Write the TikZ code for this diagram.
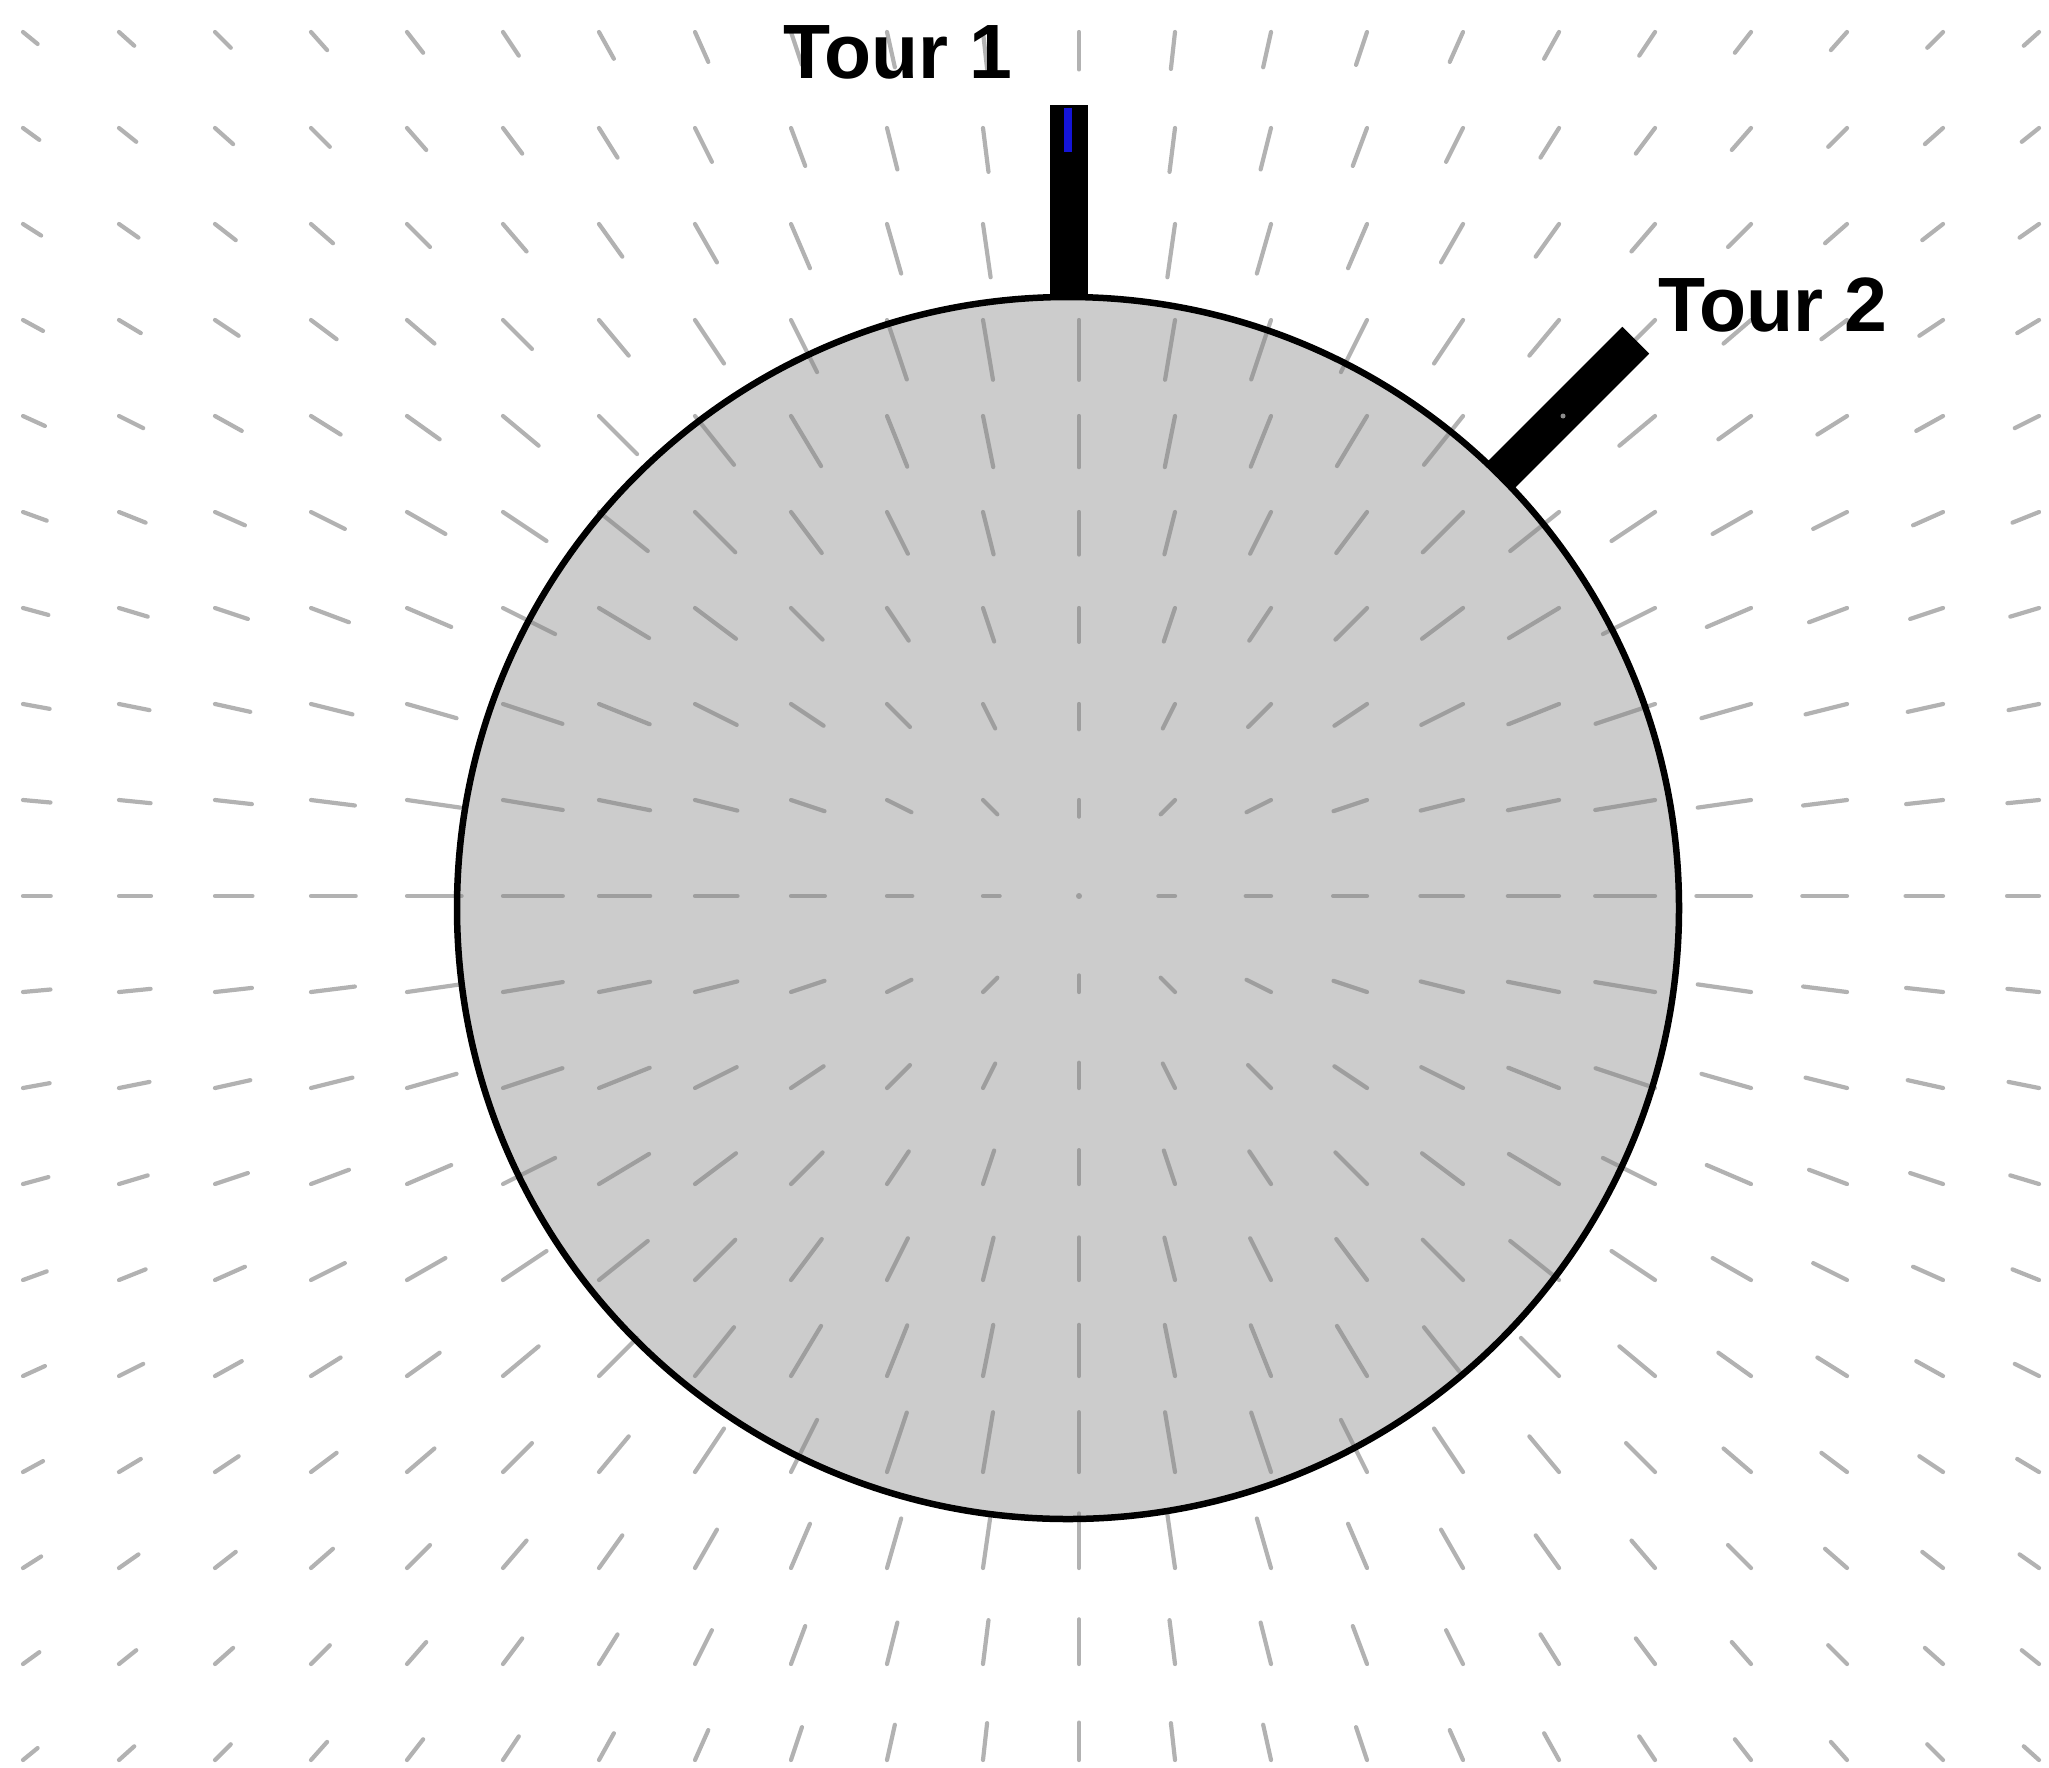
\documentclass[tikz,border=0pt]{standalone}
\usepackage{fontspec}
\setmainfont{Liberation Sans}
\definecolor{earthgray}{RGB}{204,204,204}
\definecolor{towerblue}{RGB}{20,20,215}
\begin{document}
\begin{tikzpicture}[x=1pt,y=-1pt,
  fielddash/.style={line width=4.2pt, line cap=round, draw=black!50, draw opacity=0.6},
  towerfill/.style={fill=black},
  lbl/.style={font=\fontsize{77}{90}\selectfont\bfseries, inner sep=0pt}]
\useasboundingbox[fill=white] (0,0) rectangle (2049,1767);
% Earth disc fill
\fill[earthgray] (1068,908) circle[radius=611pt];
% field dashes
\foreach \i in {-11,...,10}{
  \foreach \j in {-9,...,9}{
    \pgfmathsetmacro{\rr}{96*sqrt((\i)*(\i)+(\j)*(\j))}
    \ifdim\rr pt<1pt
      \fill[black!50, fill opacity=0.6] (1079,896) circle[radius=3pt];
    \else
      \pgfmathsetmacro{\LL}{\rr<611 ? 8+0.09*\rr : 63*pow(611/\rr,1.5)}
      \pgfmathsetmacro{\sx}{1079+96*(\i)}
      \pgfmathsetmacro{\sy}{896+96*(\j)}
      \pgfmathsetmacro{\ex}{1079+96*(\i)*(1-\LL/\rr)}
      \pgfmathsetmacro{\ey}{896+96*(\j)*(1-\LL/\rr)}
      \draw[fielddash] (\sx,\sy) -- (\ex,\ey);
    \fi
  }
}
% Earth outline
\draw[draw=black, line width=6.5pt] (1068,908) circle[radius=611pt];
% Tower 1
\fill[towerfill] (1050,105) rectangle (1088,300);
\draw[towerblue, line width=8pt] (1068,108) -- (1068,152);
% Tower 2
\fill[towerfill] (1484.5,464.7) -- (1511.3,491.5) -- (1649.2,353.6) -- (1622.4,326.8) -- cycle;
\fill[black!45] (1563,416) circle[radius=2.5pt];
% labels
\node[lbl, anchor=base west] (t1) at (783,78) {Tour 1};
\node[lbl, anchor=base west] (t2) at (1658,331) {Tour 2};
\end{tikzpicture}
\end{document}
